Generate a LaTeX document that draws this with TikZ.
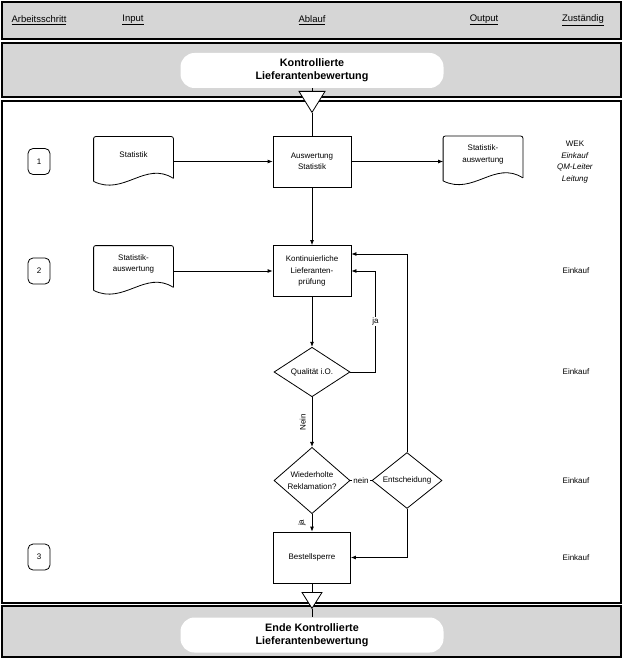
\documentclass[tikz,border=0pt]{standalone}
\usepackage{fontspec}
\setmainfont{Liberation Sans}
\usepackage{tikz}
\usetikzlibrary{shapes.geometric, arrows.meta, positioning, calc}
\definecolor{bandgray}{RGB}{214,214,214}
\definecolor{lineblack}{RGB}{0,0,0}

\begin{document}
\begin{tikzpicture}[
    x=1pt, y=-1pt,
    line width=0.8pt,
    font=\fontsize{8}{11.5}\selectfont,
    band/.style={draw=lineblack, line width=1.2pt, fill=bandgray},
    title/.style={rectangle, rounded corners=14pt, fill=white, minimum width=263, minimum height=35, align=center, font=\fontsize{10.8}{13}\selectfont\bfseries},
    proc/.style={rectangle, draw=lineblack, minimum width=78, minimum height=51, align=center, inner sep=1pt},
    doc/.style={rectangle, minimum width=79, minimum height=36, align=center, inner sep=1pt},
    decision/.style={diamond, draw=lineblack, minimum width=76, minimum height=49, inner sep=0pt, align=center},
    stepno/.style={rectangle, draw=lineblack, rounded corners=5pt, minimum width=22, minimum height=26},
    offpage/.style={isosceles triangle, isosceles triangle stretches, shape border rotate=270, draw=lineblack, fill=white, inner sep=0pt},
    head/.style={font=\fontsize{9.5}{11}\selectfont},
    who/.style={align=center},
    flowlabel/.style={fill=white, inner sep=1pt},
    sidelabel/.style={rotate=90, anchor=south, inner sep=6pt},
    arrow/.style={-{Latex[length=5pt, width=4pt]}}
]
    \useasboundingbox (0,0) rectangle (623,660);

    % Bands and panel
    \draw[band] (2,2) rectangle (621,39);
    \draw[band] (2,43) rectangle (621,97);
    \draw[line width=1.2pt, fill=white] (2,101) rectangle (621,603);
    \draw[band] (2,606) rectangle (621,657);

    % Header
    \node[head] (hArb) at (39,20) {\underline{Arbeitsschritt}};
    \node[head] (hIn) at (133,20) {\underline{Input}};
    \node[head] (hAbl) at (312,20) {\underline{Ablauf}};
    \node[head] (hOut) at (484,20) {\underline{Output}};
    \node[head] (hZus) at (583,20) {\underline{Zuständig}};

    % Start
    \node[title] (start) at (312,70.5) {Kontrollierte\\Lieferantenbewertung};
    \node[offpage, minimum width=26, minimum height=21, anchor=lower side] (offA) at (312,91) {};

    % Steps
    \node[stepno] (s1) at (39,161.5) {1};
    \node[stepno] (s2) at (39,271) {2};
    \node[stepno] (s3) at (39,557) {3};

    % Documents
    \node[doc] (statIn) at (133.5,155) {Statistik};
    \node[doc] (auswIn) at (133.5,264) {Statistik-\\auswertung};
    \node[doc] (auswOut) at (483,154.5) {Statistik-\\auswertung};
    \foreach \d in {statIn, auswIn, auswOut} {
        \draw[rounded corners=2pt] ($(\d.south west)+(0,8)$) -- (\d.north west) -- (\d.north east) -- ($(\d.south east)+(0,5)$);
        \draw ($(\d.south east)+(0,5)$) .. controls +(-28,-18) and +(30,15) .. ($(\d.south west)+(0,8)$);
    }

    % Process
    \node[proc] (ausw) at (312,161.5) {Auswertung\\Statistik};
    \node[proc] (kont) at (312,271) {Kontinuierliche\\Lieferanten-\\prüfung};
    \node[decision] (qual) at (312,372) {Qualität i.O.};
    \node[decision] (wied) at (312,480.5) {Wiederholte\\Reklamation?};
    \node[decision, minimum width=70] (ents) at (407,480.5) {Entscheidung};
    \node[proc, minimum width=77] (sperre) at (312,557.5) {Bestellsperre};

    % End
    \node[offpage, minimum width=20, minimum height=16, anchor=lower side] (offB) at (312,592) {};
    \node[title] (ende) at (312,635) {Ende Kontrollierte\\Lieferantenbewertung};

    % Responsible
    \node[who] (who1) at (575,162) {WEK\\\textit{Einkauf}\\\textit{QM-Leiter}\\\textit{Leitung}};
    \node[who] (who2) at (576,271) {Einkauf};
    \node[who] (who3) at (576,372) {Einkauf};
    \node[who] (who4) at (576,480.5) {Einkauf};
    \node[who] (who5) at (576,557.5) {Einkauf};

    % Connectors
    \draw (start) -- (offA.lower side);
    \draw (offA.apex) -- (ausw.north);
    \draw[arrow] (statIn.east |- ausw) -- (ausw);
    \draw[arrow] (ausw) -- (auswOut.west |- ausw);
    \draw[arrow] (auswIn.east |- kont) -- (kont);
    \draw[arrow] (ausw) -- (kont);
    \draw[arrow] (kont) -- (qual);
    \draw[arrow] (qual.east) -- ++(25,0) |- node[pos=0.25, flowlabel] {ja} (kont.east);
    \draw[arrow] (qual) -- node[sidelabel] {Nein} (wied);
    \draw (wied) -- node[flowlabel] {nein} (ents);
    \draw[arrow] (ents.north) |- ([yshift=17pt]kont.east);
    \draw[arrow] (ents.south) |- (sperre.east);
    \draw[arrow] (wied) -- node[sidelabel] {ja} (sperre);
    \draw (sperre) -- (offB.lower side);
    \draw (offB.apex) -- (ende);

\end{tikzpicture}
\end{document}
